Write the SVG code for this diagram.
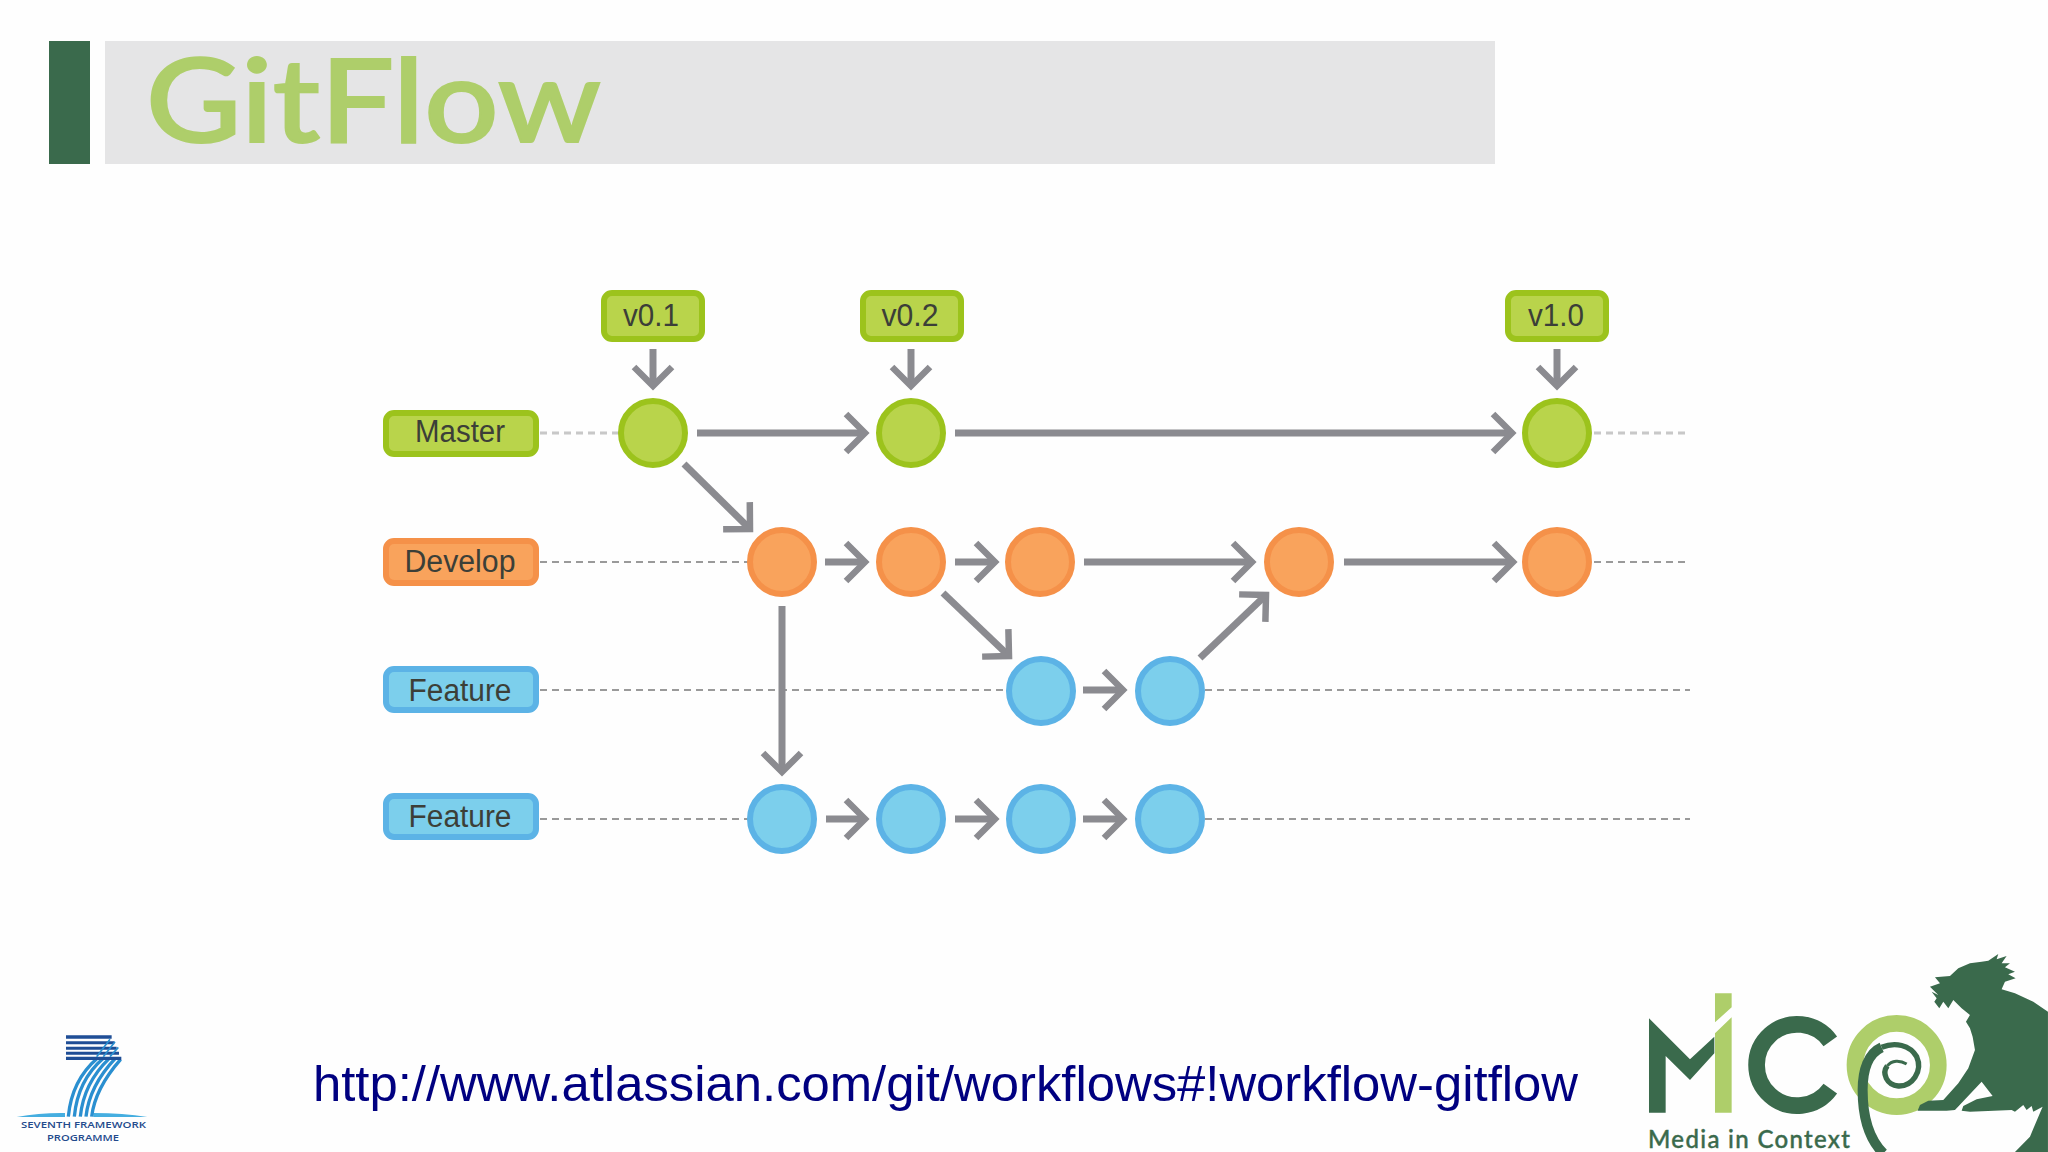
<svg xmlns="http://www.w3.org/2000/svg" width="2048" height="1152" viewBox="0 0 2048 1152">
<style>
.sans{font-family:"Liberation Sans",Arial,sans-serif}
.lbl{font-size:31px;fill:#3c3f38;text-anchor:middle}
.dash{stroke:#9a9a9a;stroke-width:2;stroke-dasharray:7 5;fill:none}
.dashl{stroke:#c8c8c8;stroke-width:3;stroke-dasharray:7 5;fill:none}
.arr{stroke:#8b8b90;stroke-width:7;fill:none;marker-end:url(#chev)}
.g circle,.g rect{fill:#b9d44c;stroke:#9cc31f;stroke-width:6}
.o circle,.o rect{fill:#f9a35c;stroke:#f5914a;stroke-width:6}
.b circle,.b rect{fill:#7bcfec;stroke:#5cb3e6;stroke-width:6}
.sw{fill:none;stroke:#2a8fd0;stroke-width:10}
#connectors,#lanes,.soft{filter:url(#soft)}
</style>
<defs>
<filter id="soft" x="-5%" y="-5%" width="110%" height="110%"><feGaussianBlur stdDeviation="0.7"/></filter>
<marker id="chev" markerUnits="userSpaceOnUse" markerWidth="40" markerHeight="48" viewBox="-30 -24 40 48" refX="0" refY="0" orient="auto">
<path d="M-19,-19 L0,0 L-19,19" fill="none" stroke="#8b8b90" stroke-width="6.5"/>
</marker>
</defs>
<rect width="2048" height="1152" fill="#fefefe"/>
<g id="header">
<rect x="49" y="41" width="41" height="123" fill="#3a6a4c"/>
<rect x="105" y="41" width="1390" height="123" fill="#e5e5e6"/>
<text x="146" y="142" font-family="Lato,sans-serif" font-size="116" font-weight="500" stroke="#aece6a" stroke-width="2" fill="#aece6a" textLength="455" lengthAdjust="spacingAndGlyphs">GitFlow</text>
</g>
<g id="lanes">
<path class="dashl" d="M540 433H620M1594 433H1690"/>
<path class="dash" d="M540 562H748M1594 562H1690M540 690H1005M1205 690H1690M540 819H748M1205 819H1690"/>
</g>
<g id="connectors">
<path class="arr" d="M653 349V386"/>
<path class="arr" d="M911 349V386"/>
<path class="arr" d="M1557 349V386"/>
<path class="arr" d="M697 433H865"/>
<path class="arr" d="M955 433H1512"/>
<path class="arr" d="M684 464L750 529"/>
<path class="arr" d="M825 562H865"/>
<path class="arr" d="M955 562H995"/>
<path class="arr" d="M1084 562H1252"/>
<path class="arr" d="M1344 562H1513"/>
<path class="arr" d="M943 593L1009 656"/>
<path class="arr" d="M782 606V772"/>
<path class="arr" d="M1083 690H1123"/>
<path class="arr" d="M1200 658L1266 595"/>
<path class="arr" d="M826 819H865"/>
<path class="arr" d="M955 819H995"/>
<path class="arr" d="M1083 819H1123"/>
</g>
<g id="tag-v01" class="g"><rect class="soft" x="604" y="293" width="98" height="46" rx="8"/><text class="sans lbl" x="651" y="326" textLength="56" lengthAdjust="spacingAndGlyphs">v0.1</text></g>
<g id="tag-v02" class="g"><rect class="soft" x="863" y="293" width="98" height="46" rx="8"/><text class="sans lbl" x="910" y="326" textLength="57" lengthAdjust="spacingAndGlyphs">v0.2</text></g>
<g id="tag-v10" class="g"><rect class="soft" x="1508" y="293" width="98" height="46" rx="8"/><text class="sans lbl" x="1556" y="326" textLength="56" lengthAdjust="spacingAndGlyphs">v1.0</text></g>
<g id="label-master" class="g"><rect class="soft" x="386" y="413" width="150" height="41" rx="8"/><text class="sans lbl" x="460" y="442" textLength="90" lengthAdjust="spacingAndGlyphs">Master</text></g>
<g id="label-develop" class="o"><rect class="soft" x="386" y="541" width="150" height="42" rx="8"/><text class="sans lbl" x="460" y="572" textLength="111" lengthAdjust="spacingAndGlyphs">Develop</text></g>
<g id="label-feature1" class="b"><rect class="soft" x="386" y="669" width="150" height="41" rx="8"/><text class="sans lbl" x="460" y="701" textLength="103" lengthAdjust="spacingAndGlyphs">Feature</text></g>
<g id="label-feature2" class="b"><rect class="soft" x="386" y="796" width="150" height="41" rx="8"/><text class="sans lbl" x="460" y="827" textLength="103" lengthAdjust="spacingAndGlyphs">Feature</text></g>
<g id="m1" class="g"><circle class="soft" cx="653" cy="433" r="32"/></g>
<g id="m2" class="g"><circle class="soft" cx="911" cy="433" r="32"/></g>
<g id="m3" class="g"><circle class="soft" cx="1557" cy="433" r="32"/></g>
<g id="d1" class="o"><circle class="soft" cx="782" cy="562" r="32"/></g>
<g id="d2" class="o"><circle class="soft" cx="911" cy="562" r="32"/></g>
<g id="d3" class="o"><circle class="soft" cx="1040" cy="562" r="32"/></g>
<g id="d4" class="o"><circle class="soft" cx="1299" cy="562" r="32"/></g>
<g id="d5" class="o"><circle class="soft" cx="1557" cy="562" r="32"/></g>
<g id="f1" class="b"><circle class="soft" cx="1041" cy="691" r="32"/></g>
<g id="f2" class="b"><circle class="soft" cx="1170" cy="691" r="32"/></g>
<g id="h1" class="b"><circle class="soft" cx="782" cy="819" r="32"/></g>
<g id="h2" class="b"><circle class="soft" cx="911" cy="819" r="32"/></g>
<g id="h3" class="b"><circle class="soft" cx="1041" cy="819" r="32"/></g>
<g id="h4" class="b"><circle class="soft" cx="1170" cy="819" r="32"/></g>
<text id="url" class="sans" x="313" y="1101" font-size="50" fill="#000080" textLength="1265" lengthAdjust="spacingAndGlyphs">http://www.atlassian.com/git/workflows#!workflow-gitflow</text>
<g id="fp7-logo">
<g transform="translate(0 1020) scale(.3333)">
<path d="M50 291Q120 278 195 279V291ZM280 279Q370 279 442 291H280Z" fill="#45aee0"/>
<g class="sw">
<path d="M205 290C212 215 240 160 292 115"/>
<path d="M223 290C230 215 258 160 310 115"/>
<path d="M241 290C248 220 276 165 328 115"/>
<path d="M258 290C265 225 294 170 346 115"/>
<path d="M275 290C282 230 312 175 362 118"/>
</g>
<path d="M198 46H335V56H198ZM198 64H343V73H198ZM198 80H350V89H198ZM198 95H357V104H198ZM198 110H364V120H198Z" fill="#1f4e96"/>
<path d="M290 110L330 58M310 110L345 65M330 110L355 82" stroke="#2a8fd0" stroke-width="5" fill="none"/>
</g>
<text x="21" y="1128" font-family="Open Sans,sans-serif" font-weight="600" font-size="9.5" fill="#234a8c" textLength="125" lengthAdjust="spacingAndGlyphs">SEVENTH FRAMEWORK</text>
<text x="47" y="1141" font-family="Open Sans,sans-serif" font-weight="600" font-size="9.5" fill="#234a8c" textLength="72" lengthAdjust="spacingAndGlyphs">PROGRAMME</text>
</g>
<g id="mico-logo">
<g transform="translate(1600 940) scale(.3333)">
<path d="M147 235L270 358L343 290V340L270 420L197 348V518H147Z" fill="#3a6a4c"/>
<path d="M345 160H395V202L345 247ZM395 232V518H345V280Z" fill="#aece6a"/>
<path d="M691 304A122 122 0 1 0 691 446" fill="none" stroke="#3a6a4c" stroke-width="50"/>
<circle cx="890" cy="375" r="125" fill="none" stroke="#aece6a" stroke-width="50"/>
<path d="M850 640C800 590 788 520 788 450C788 390 805 340 845 322" fill="none" stroke="#3a6a4c" stroke-width="30"/>
<path d="M845 322C885 305 930 315 950 350C970 395 935 440 895 438C860 435 845 400 862 378" fill="none" stroke="#3a6a4c" stroke-width="16"/>
<path d="M862 378C875 360 900 360 920 372" fill="none" stroke="#3a6a4c" stroke-width="9"/>
<path d="M990 140L1020 130L1005 112L1050 108L1075 85L1110 70L1145 65L1165 62L1195 42L1190 58L1220 48L1205 70L1230 70L1215 82L1245 95L1225 103L1247 115L1215 125L1205 148L1245 160L1300 185L1344 215V636H1245L1290 590L1328 500L1300 515L1295 498L1280 510L1270 495L1245 515L1235 510L1110 515L1085 512L1090 498L1130 478L1178 468L1145 425L1065 510L1040 512L953 512L960 495L985 482L1030 480L1075 430L1105 385L1125 330L1118 290L1110 265L1098 245L1110 225L1085 205L1060 180L1045 205L1030 185L1018 205L1003 185L1010 175L995 155L1015 165Z" fill="#3a6a4c"/>
</g>
<text x="1648" y="1148" font-family="Lato,sans-serif" font-size="24" font-weight="500" fill="#3a6a4c" stroke="#3a6a4c" stroke-width=".4" textLength="202" lengthAdjust="spacing">Media in Context</text>
</g>
</svg>
